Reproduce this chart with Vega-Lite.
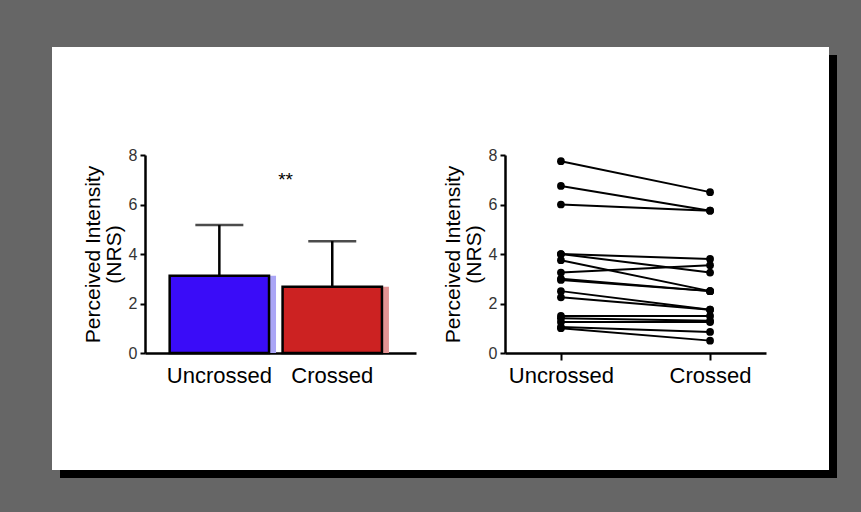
{
  "$schema": "https://vega.github.io/schema/vega-lite/v6.json",
  "background": "#666666",
  "padding": {"left": 52, "top": 47, "right": 24, "bottom": 34},
  "spacing": 0,
  "vconcat": [
    {
      "spacing": 0,
      "hconcat": [
        {
          "width": 388,
          "height": 423,
          "view": {"fill": "white", "stroke": null},
          "data": {"values": [
            {"condition": "Uncrossed", "mean": 3.12, "upper": 5.17},
            {"condition": "Crossed", "mean": 2.68, "upper": 4.52}
          ]},
          "resolve": {"scale": {"color": "independent"}},
          "layer": [
            {
              "mark": {"type": "bar", "xOffset": 7},
              "encoding": {
                "x": {"field": "condition", "type": "nominal", "sort": ["Uncrossed", "Crossed"],
                      "scale": {"range": [93, 364], "paddingInner": 0.12, "paddingOuter": 0.26, "align": 0.42},
                      "axis": {"title": null, "offset": -117, "ticks": false, "tickSize": 0, "labelPadding": 12}},
                "y": {"field": "mean", "type": "quantitative", "scale": {"domain": [0, 8], "nice": false, "range": [306, 108]},
                      "axis": {"offset": -93, "values": [0, 2, 4, 6, 8]}, "title": ["Perceived Intensity", "(NRS)"]},
                "color": {"field": "condition", "type": "nominal", "legend": null,
                          "scale": {"domain": ["Uncrossed", "Crossed"], "range": ["#aaa5f6", "#e39393"]}}
              }
            },
            {
              "mark": {"type": "bar", "stroke": "black", "strokeWidth": 2.5},
              "encoding": {
                "x": {"field": "condition", "type": "nominal", "sort": ["Uncrossed", "Crossed"],
                      "scale": {"range": [93, 364], "paddingInner": 0.12, "paddingOuter": 0.26, "align": 0.42},
                      "axis": {"title": null, "offset": -117, "ticks": false, "tickSize": 0, "labelPadding": 12}},
                "y": {"field": "mean", "type": "quantitative", "scale": {"domain": [0, 8], "nice": false, "range": [306, 108]},
                      "axis": {"offset": -93, "values": [0, 2, 4, 6, 8]}, "title": ["Perceived Intensity", "(NRS)"]},
                "color": {"field": "condition", "type": "nominal", "legend": null,
                          "scale": {"domain": ["Uncrossed", "Crossed"], "range": ["#3a0cf8", "#cc2222"]}}
              }
            },
            {
              "mark": {"type": "rule", "color": "black", "strokeWidth": 2.5},
              "encoding": {
                "x": {"field": "condition", "type": "nominal", "sort": ["Uncrossed", "Crossed"],
                      "scale": {"range": [93, 364], "paddingInner": 0.12, "paddingOuter": 0.26, "align": 0.42},
                      "axis": {"title": null, "offset": -117, "ticks": false, "tickSize": 0, "labelPadding": 12}},
                "y": {"field": "mean", "type": "quantitative", "scale": {"domain": [0, 8], "nice": false, "range": [306, 108]},
                      "axis": {"offset": -93, "values": [0, 2, 4, 6, 8]}, "title": ["Perceived Intensity", "(NRS)"]},
                "y2": {"field": "upper"}
              }
            },
            {
              "mark": {"type": "tick", "color": "black", "size": 48, "thickness": 2.5},
              "encoding": {
                "x": {"field": "condition", "type": "nominal", "sort": ["Uncrossed", "Crossed"],
                      "scale": {"range": [93, 364], "paddingInner": 0.12, "paddingOuter": 0.26, "align": 0.42},
                      "axis": {"title": null, "offset": -117, "ticks": false, "tickSize": 0, "labelPadding": 12}},
                "y": {"field": "upper", "type": "quantitative", "scale": {"domain": [0, 8], "nice": false, "range": [306, 108]},
                      "axis": {"offset": -93, "values": [0, 2, 4, 6, 8]}, "title": ["Perceived Intensity", "(NRS)"]}
              }
            },
            {
              "data": {"values": [{"condition": "Crossed", "label": "**", "level": 7.0}]},
              "mark": {"type": "text", "fontSize": 19, "color": "black", "font": "Liberation Sans", "baseline": "middle"},
              "encoding": {
                "x": {"field": "condition", "type": "nominal", "sort": ["Uncrossed", "Crossed"], "bandPosition": 0.03,
                      "scale": {"range": [93, 364], "paddingInner": 0.12, "paddingOuter": 0.26, "align": 0.42},
                      "axis": {"title": null, "offset": -117, "ticks": false, "tickSize": 0, "labelPadding": 12}},
                "y": {"field": "level", "type": "quantitative", "scale": {"domain": [0, 8], "nice": false, "range": [306, 108]},
                      "axis": {"offset": -93, "values": [0, 2, 4, 6, 8]}, "title": ["Perceived Intensity", "(NRS)"]},
                "text": {"field": "label"}
              }
            }
          ]
        },
        {
          "width": 389,
          "height": 423,
          "view": {"fill": "white", "stroke": null},
          "data": {"values": [
            {"subject": 1, "condition": "Uncrossed", "value": 7.75},
            {"subject": 1, "condition": "Crossed", "value": 6.5},
            {"subject": 2, "condition": "Uncrossed", "value": 6.75},
            {"subject": 2, "condition": "Crossed", "value": 5.75},
            {"subject": 3, "condition": "Uncrossed", "value": 6.0},
            {"subject": 3, "condition": "Crossed", "value": 5.75},
            {"subject": 4, "condition": "Uncrossed", "value": 4.0},
            {"subject": 4, "condition": "Crossed", "value": 3.8},
            {"subject": 5, "condition": "Uncrossed", "value": 4.0},
            {"subject": 5, "condition": "Crossed", "value": 3.25},
            {"subject": 6, "condition": "Uncrossed", "value": 3.75},
            {"subject": 6, "condition": "Crossed", "value": 2.5},
            {"subject": 7, "condition": "Uncrossed", "value": 3.25},
            {"subject": 7, "condition": "Crossed", "value": 3.55},
            {"subject": 8, "condition": "Uncrossed", "value": 3.0},
            {"subject": 8, "condition": "Crossed", "value": 2.5},
            {"subject": 9, "condition": "Uncrossed", "value": 2.95},
            {"subject": 9, "condition": "Crossed", "value": 2.5},
            {"subject": 10, "condition": "Uncrossed", "value": 2.5},
            {"subject": 10, "condition": "Crossed", "value": 1.75},
            {"subject": 11, "condition": "Uncrossed", "value": 2.25},
            {"subject": 11, "condition": "Crossed", "value": 1.75},
            {"subject": 12, "condition": "Uncrossed", "value": 1.5},
            {"subject": 12, "condition": "Crossed", "value": 1.5},
            {"subject": 13, "condition": "Uncrossed", "value": 1.4},
            {"subject": 13, "condition": "Crossed", "value": 1.3},
            {"subject": 14, "condition": "Uncrossed", "value": 1.25},
            {"subject": 14, "condition": "Crossed", "value": 1.25},
            {"subject": 15, "condition": "Uncrossed", "value": 1.05},
            {"subject": 15, "condition": "Crossed", "value": 0.85},
            {"subject": 16, "condition": "Uncrossed", "value": 1.0},
            {"subject": 16, "condition": "Crossed", "value": 0.5}
          ]},
          "encoding": {
            "x": {"field": "condition", "type": "nominal", "sort": ["Uncrossed", "Crossed"],
                  "scale": {"type": "point", "padding": 0.375, "range": [65, 326]},
                  "axis": {"title": null, "offset": -117, "ticks": true, "tickSize": 7, "labelPadding": 5}},
            "y": {"field": "value", "type": "quantitative", "scale": {"domain": [0, 8], "nice": false, "range": [306, 108]},
                  "axis": {"offset": -65, "values": [0, 2, 4, 6, 8]}, "title": ["Perceived Intensity", "(NRS)"]}
          },
          "layer": [
            {"mark": {"type": "line", "color": "black", "strokeWidth": 2}, "encoding": {"detail": {"field": "subject", "type": "nominal"}}},
            {"mark": {"type": "point", "filled": true, "color": "black", "opacity": 1, "size": 60}, "encoding": {}}
          ]
        },
        {
          "spacing": 0,
          "vconcat": [
            {"width": 8, "height": 8, "data": {"values": []}, "mark": {"type": "point"}, "encoding": {},
             "view": {"fill": "#666666", "stroke": null}},
            {"width": 8, "height": 415, "data": {"values": []}, "mark": {"type": "point"}, "encoding": {},
             "view": {"fill": "black", "stroke": null}}
          ]
        }
      ]
    },
    {
      "spacing": 0,
      "hconcat": [
        {"width": 8, "height": 8, "data": {"values": []}, "mark": {"type": "point"}, "encoding": {},
         "view": {"fill": "#666666", "stroke": null}},
        {"width": 777, "height": 8, "data": {"values": []}, "mark": {"type": "point"}, "encoding": {},
         "view": {"fill": "black", "stroke": null}}
      ]
    }
  ],
  "config": {
    "font": "Liberation Sans",
    "view": {"stroke": null},
    "axis": {
      "grid": false,
      "domainColor": "black",
      "domainWidth": 2.5,
      "tickColor": "black",
      "tickWidth": 2,
      "labelFont": "Liberation Sans",
      "titleFont": "Liberation Sans"
    },
    "axisX": {"labelAngle": 0, "labelFontSize": 22, "labelColor": "black"},
    "axisY": {
      "tickSize": 5,
      "labelFontSize": 16,
      "labelColor": "#333333",
      "labelPadding": 3,
      "titleFontSize": 21,
      "titleFontWeight": "normal",
      "titleColor": "black",
      "titleLineHeight": 21,
      "titlePadding": 4
    }
  }
}
